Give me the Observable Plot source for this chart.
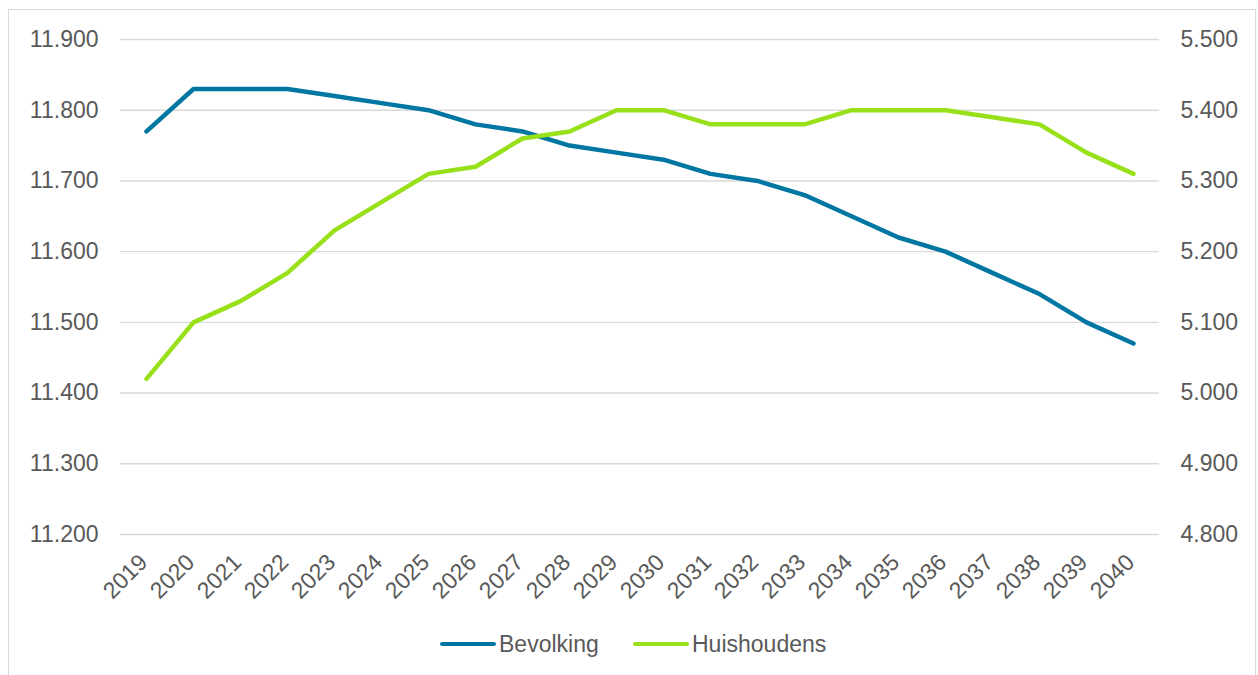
<!DOCTYPE html>
<html>
<head>
<meta charset="utf-8">
<script src="https://cdn.jsdelivr.net/npm/d3@7"></script>
<script src="https://cdn.jsdelivr.net/npm/@observablehq/plot@0.6"></script>
<style>
  html, body { margin: 0; padding: 0; background: #fff; }
  body { width: 1258px; height: 675px; overflow: hidden; position: relative; font-family: "Liberation Sans", Arial, sans-serif; }
  #frame { position: absolute; left: 8px; top: 9px; width: 1248px; height: 720px; border: 1px solid #d9d9d9; box-sizing: border-box; }
  #chart { position: absolute; left: 0; top: 0; }
  #legend { position: absolute; top: 630px; left: 0; width: 1258px; height: 28px; font-size: 23px; color: #595959; }
  .item { position: absolute; top: 0; display: flex; align-items: center; height: 28px; }
  .swatch { width: 56px; height: 4.5px; border-radius: 2px; margin-right: 3px; }
</style>
</head>
<body>
<div id="frame"></div>
<div id="chart"></div>
<div id="legend"></div>
<script>
const years = ["2019","2020","2021","2022","2023","2024","2025","2026","2027","2028","2029","2030","2031","2032","2033","2034","2035","2036","2037","2038","2039","2040"];
const bevolking = [11770,11830,11830,11830,11820,11810,11800,11780,11770,11750,11740,11730,11710,11700,11680,11650,11620,11600,11570,11540,11500,11470];
const huishoudens = [5020,5100,5130,5170,5230,5270,5310,5320,5360,5370,5400,5400,5380,5380,5380,5400,5400,5400,5390,5380,5340,5310];
const leftTicks = [11200,11300,11400,11500,11600,11700,11800,11900];
const rightTicks = [4800,4900,5000,5100,5200,5300,5400,5500];
const seriesNames = ["Bevolking","Huishoudens"];
const seriesColors = ["#0076a3","#97e01a"];

// Right axis mapped onto the left scale
const offset = leftTicks[0] - rightTicks[0];
const fmt = v => d3.format(",")(v).replace(/,/g, ".");

const dataB = years.map((y, i) => ({year: y, value: bevolking[i]}));
const dataH = years.map((y, i) => ({year: y, value: huishoudens[i] + offset}));

const W = 1258, H = 620;
const plot = Plot.plot({
  width: W,
  height: H,
  marginLeft: 120,
  marginRight: 99,
  marginTop: 39,
  marginBottom: H - 534,
  style: {fontFamily: "'Liberation Sans', Arial, sans-serif", fontSize: "23px", color: "#595959", background: "transparent"},
  x: {type: "point", domain: years, padding: 0.5},
  y: {domain: [leftTicks[0], leftTicks[leftTicks.length - 1]]},
  marks: [
    Plot.gridY(leftTicks, {stroke: "#d9d9d9", strokeOpacity: 1, strokeWidth: 1.4}),
    Plot.axisY(leftTicks, {anchor: "left", tickSize: 0, tickPadding: 22, tickFormat: fmt, label: null, fill: "#595959"}),
    Plot.axisY(leftTicks, {anchor: "right", tickSize: 0, tickPadding: 21, tickFormat: d => fmt(d - offset), label: null, fill: "#595959"}),
    Plot.axisX(years, {tickSize: 0, tickRotate: -45, tickPadding: 24, dx: -3, label: null, fill: "#595959"}),
    Plot.line(dataB, {x: "year", y: "value", stroke: seriesColors[0], strokeWidth: 4.5, strokeLinecap: "round", strokeLinejoin: "round"}),
    Plot.line(dataH, {x: "year", y: "value", stroke: seriesColors[1], strokeWidth: 4.5, strokeLinecap: "round", strokeLinejoin: "round"})
  ]
});
document.getElementById("chart").appendChild(plot);

const legend = document.getElementById("legend");
const lefts = [440, 633];
seriesNames.forEach((n, i) => {
  const it = document.createElement("div");
  it.className = "item";
  it.style.left = lefts[i] + "px";
  const sw = document.createElement("span");
  sw.className = "swatch";
  sw.style.background = seriesColors[i];
  const tx = document.createElement("span");
  tx.textContent = n;
  it.appendChild(sw); it.appendChild(tx);
  legend.appendChild(it);
});
</script>
</body>
</html>
